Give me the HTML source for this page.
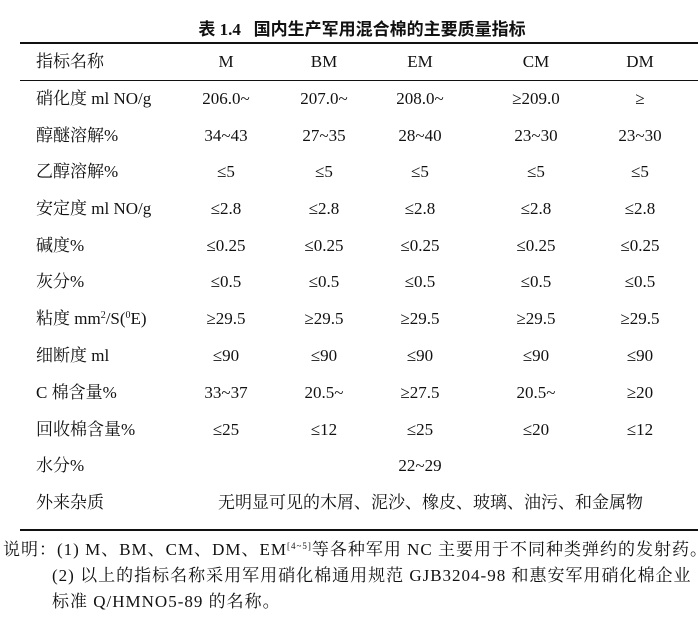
<!DOCTYPE html>
<html><head><meta charset="utf-8"><style>
body{margin:0;width:698px;height:620px;background:#fff;position:relative;overflow:hidden;font-family:"Liberation Serif","Noto Serif CJK SC",serif;font-size:17px;color:#111}
.a{position:absolute;white-space:nowrap;line-height:20px}
.c{transform:translateX(-50%)}
.r{position:absolute;left:20px;right:0;background:#111}
sup{line-height:0;vertical-align:6px}
.n{letter-spacing:1px}
</style></head><body>
<div class="a c" style="left:362px;top:20px;font-family:'Liberation Serif','Noto Sans CJK SC',sans-serif;font-weight:bold;font-size:17px">表 1.4&nbsp;&nbsp;&nbsp;国内生产军用混合棉的主要质量指标</div>
<div class="r" style="top:42px;height:2px"></div>
<div class="r" style="top:80px;height:1px"></div>
<div class="r" style="top:529px;height:2px"></div>
<div id="t"></div>
<script>
var rows=[["指标名称","M","BM","EM","CM","DM"],
["硝化度 ml NO/g","206.0~","207.0~","208.0~","≥209.0","≥"],
["醇醚溶解%","34~43","27~35","28~40","23~30","23~30"],
["乙醇溶解%","≤5","≤5","≤5","≤5","≤5"],
["安定度 ml NO/g","≤2.8","≤2.8","≤2.8","≤2.8","≤2.8"],
["碱度%","≤0.25","≤0.25","≤0.25","≤0.25","≤0.25"],
["灰分%","≤0.5","≤0.5","≤0.5","≤0.5","≤0.5"],
["粘度 mm<sup style='font-size:10px'>2</sup>/S(<sup style='font-size:10px'>0</sup>E)","≥29.5","≥29.5","≥29.5","≥29.5","≥29.5"],
["细断度 ml","≤90","≤90","≤90","≤90","≤90"],
["C 棉含量%","33~37","20.5~","≥27.5","20.5~","≥20"],
["回收棉含量%","≤25","≤12","≤25","≤20","≤12"],
["水分%","","","22~29","",""],
["外来杂质","","","","",""]];
var ys=[52,89,126,162,199,236,272,309,346,383,420,456,493];
var xs=[226,324,420,536,640];var h="";
rows.forEach(function(r,i){h+='<div class="a" style="left:36px;top:'+ys[i]+'px">'+r[0]+'</div>';
for(var j=1;j<6;j++)if(r[j])h+='<div class="a c" style="left:'+xs[j-1]+'px;top:'+ys[i]+'px">'+r[j]+'</div>';});
h+='<div class="a" style="left:218px;top:493px">无明显可见的木屑、泥沙、橡皮、玻璃、油污、和金属物</div>';
document.getElementById('t').innerHTML=h;
</script>
<div class="a n" style="left:3px;top:540px">说明：(1) M、BM、CM、DM、EM<sup style="font-size:9px">[4~5]</sup>等各种军用 NC 主要用于不同种类弹约的发射药。</div>
<div class="a n" style="left:52px;top:566px">(2) 以上的指标名称采用军用硝化棉通用规范 GJB3204-98 和惠安军用硝化棉企业</div>
<div class="a n" style="left:52px;top:592px">标准 Q/HMNO5-89 的名称。</div>
</body></html>
